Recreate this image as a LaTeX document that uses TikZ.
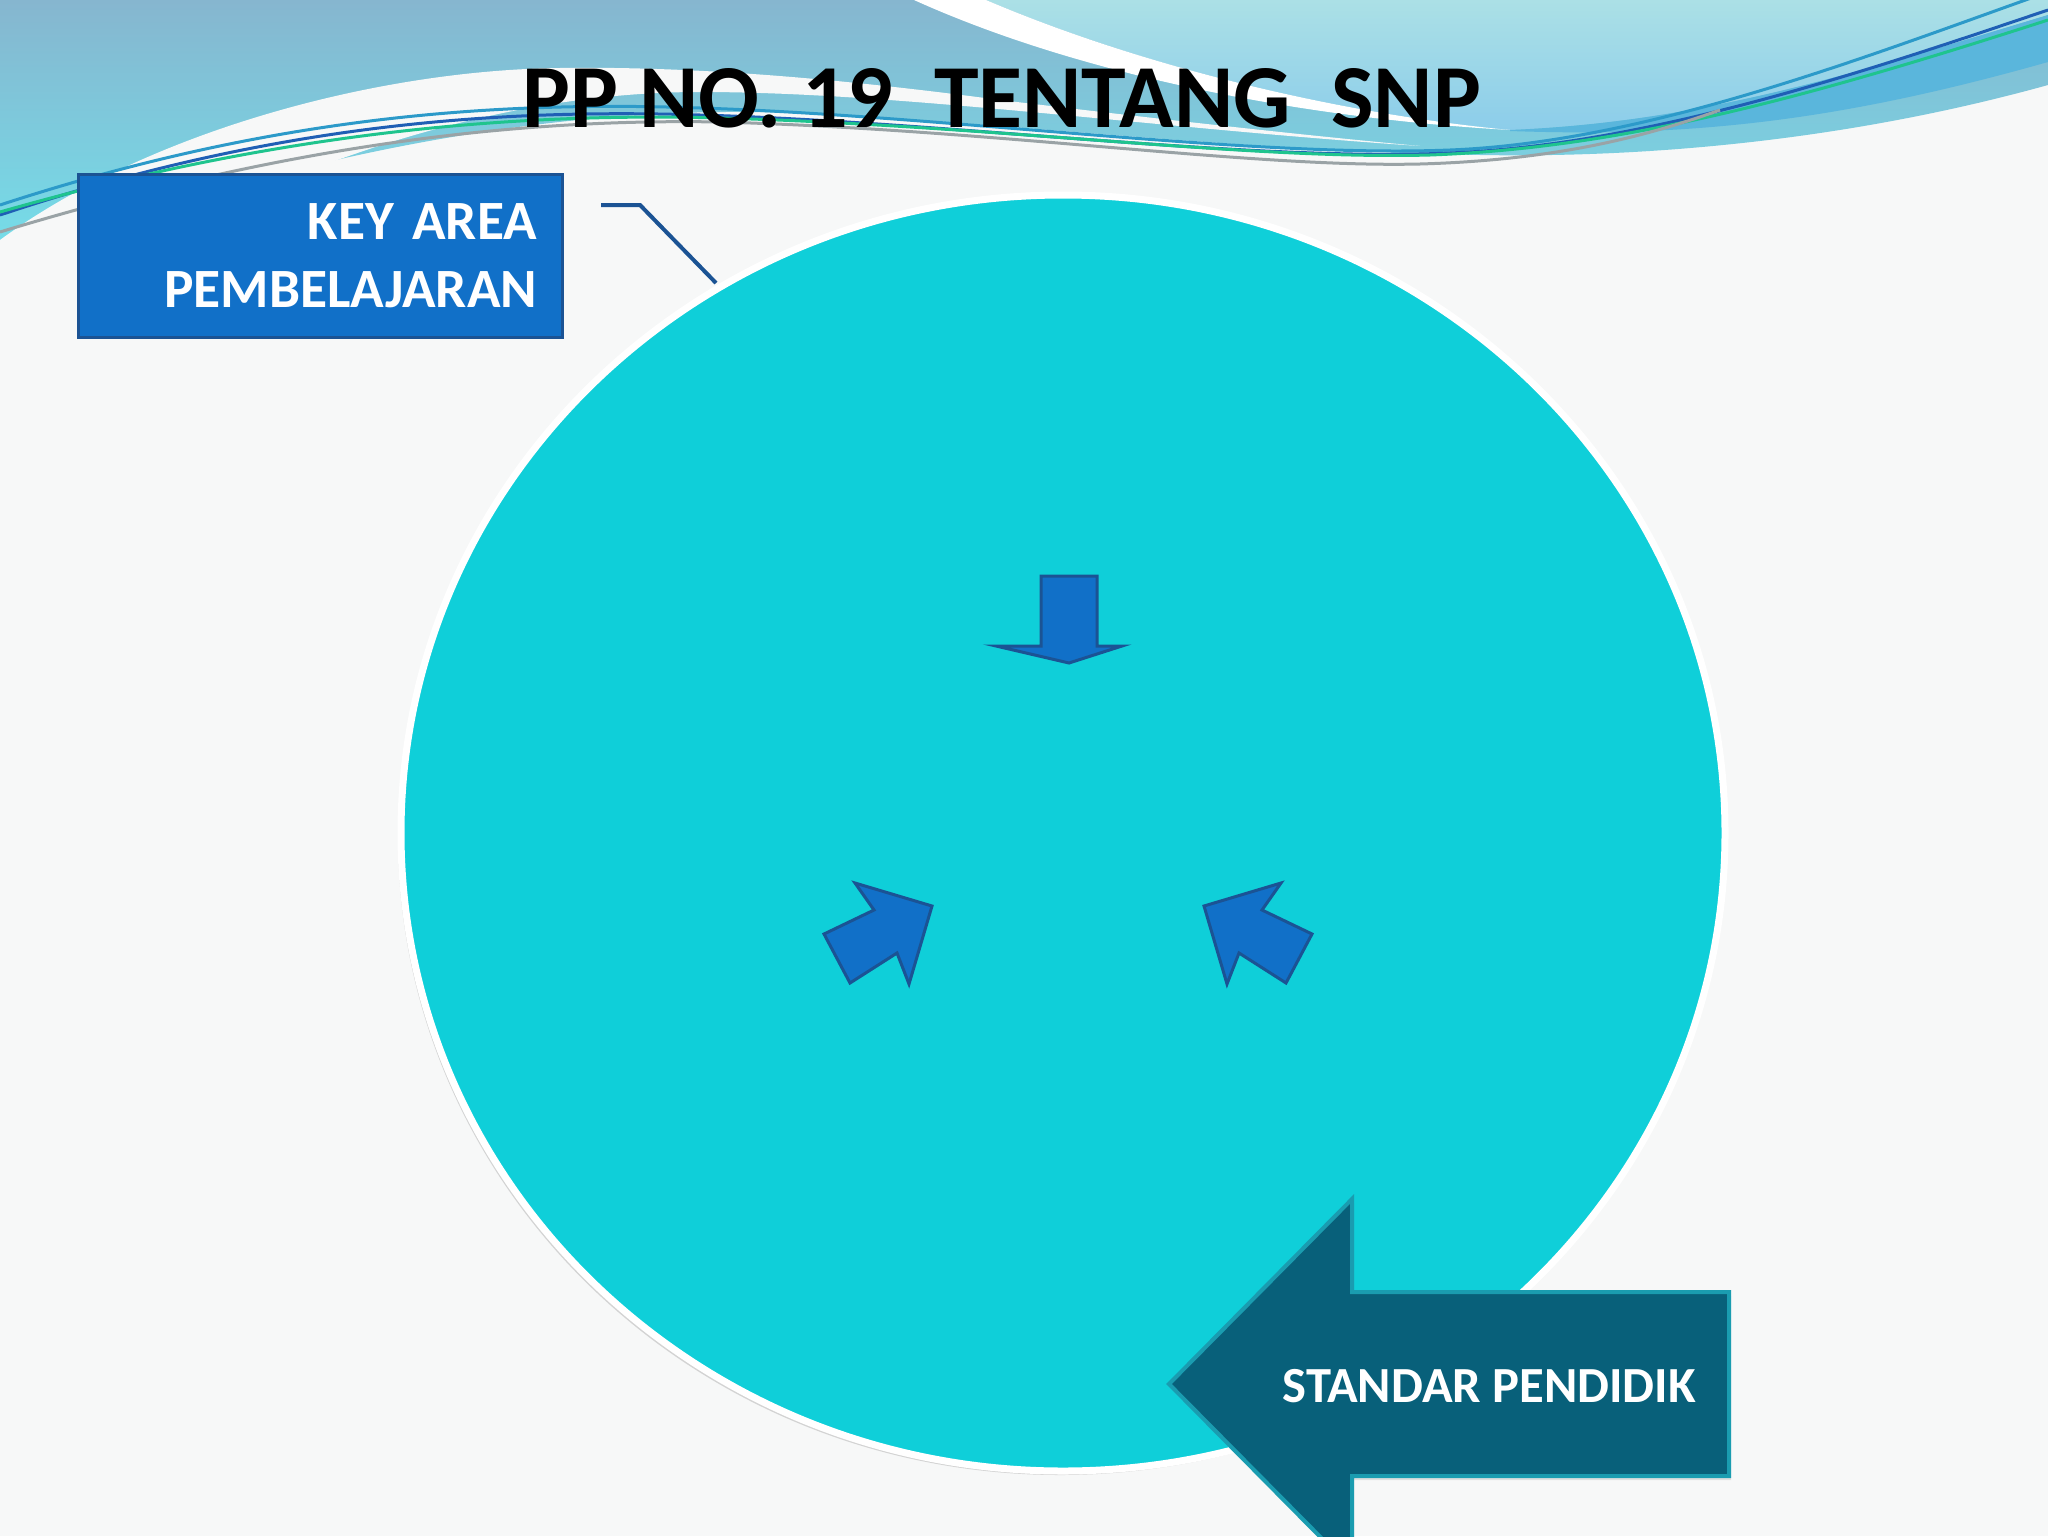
\documentclass[tikz,border=0pt]{standalone}
\usepackage{fontspec}
\setmainfont{Carlito}
\usetikzlibrary{positioning,shapes.geometric,shadows}

\definecolor{pagebg}{HTML}{F7F8F8}
\definecolor{skytop}{HTML}{86B6CF}
\definecolor{skylow}{HTML}{74DFEA}
\definecolor{palesky}{HTML}{ABE0E6}
\definecolor{palelow}{HTML}{8CCDEA}
\definecolor{deepband}{HTML}{5AB6DC}
\definecolor{disccyan}{HTML}{0FCFD9}
\definecolor{keyblue}{HTML}{1170C8}
\definecolor{keyedge}{HTML}{1B5394}
\definecolor{tealarrow}{HTML}{08607A}
\definecolor{tealedge}{HTML}{1A9CB0}

\tikzset{
  disc/.style={ellipse, fill=disccyan, draw=white, line width=3.5pt,
    minimum width=662pt, minimum height=638pt, inner sep=0pt,
    drop shadow={opacity=.3, shadow xshift=-1.5pt, shadow yshift=-2pt}},
  keybox/.style={fill=keyblue, draw=keyedge, line width=1.5pt,
    minimum width=242pt, minimum height=81.5pt, text width=217pt,
    inner xsep=12.5pt, align=right, text=white,
    font=\fontsize{27.7}{34}\selectfont\bfseries},
  pointer/.style={fill=keyblue, draw=keyedge, line width=1.5pt, line join=miter},
  bigpointer/.style={fill=tealarrow, draw=tealedge, line width=2pt, line join=miter,
    drop shadow={opacity=.2, shadow xshift=1pt, shadow yshift=-2pt}},
  leadline/.style={draw=keyedge, line width=2pt},
  thread/.style={line width=1.5pt},
}

\begin{document}
\begin{tikzpicture}[x=0.5pt, y=-0.5pt]
  \useasboundingbox (0,0) rectangle (2048,1536);
  \clip (0,0) rectangle (2048,1536);
  \fill[pagebg] (0,0) rectangle (2048,1536);

  % waves at the top
  \shade[top color=skytop, bottom color=skylow] (0,0) -- (2048,0) -- (2048,85)
    .. controls (1850,140) and (1650,158) .. (1480,155)
    .. controls (1200,150) and (950,115) .. (750,112)
    .. controls (500,110) and (250,170) .. (0,260) -- cycle;
  \shade[top color=palesky, bottom color=palelow] (986,0) -- (2048,0) -- (2048,15)
    .. controls (1850,75) and (1700,122) .. (1510,130)
    .. controls (1350,115) and (1150,70) .. (986,0) -- cycle;
  \fill[deepband] (1510,130) .. controls (1700,122) and (1850,75) .. (2048,15)
    -- (2048,62) .. controls (1850,118) and (1700,138) .. (1510,131) -- cycle;
  \fill[white] (914,0) -- (986,0) .. controls (1150,70) and (1350,115) .. (1510,130)
    .. controls (1300,118) and (1080,75) .. (914,0) -- cycle;
  \fill[pagebg] (0,240) .. controls (150,130) and (380,70) .. (560,68)
    .. controls (700,66) and (850,80) .. (1000,100)
    .. controls (1150,118) and (1300,135) .. (1420,146)
    .. controls (1150,128) and (900,92) .. (700,92)
    .. controls (450,92) and (200,200) .. (0,330) -- cycle;

  \draw[thread, color={rgb,255:red,44;green,154;blue,201}] (0,205)
    .. controls (260,120) and (480,100) .. (700,108)
    .. controls (950,116) and (1250,158) .. (1450,150)
    .. controls (1650,142) and (1870,55) .. (2048,-8);
  \draw[thread, color={rgb,255:red,31;green,95;blue,181}] (0,215)
    .. controls (260,128) and (480,108) .. (700,115)
    .. controls (950,122) and (1250,162) .. (1450,153)
    .. controls (1650,145) and (1870,70) .. (2048,10);
  \draw[thread, color={rgb,255:red,31;green,196;blue,142}] (0,212)
    .. controls (270,135) and (500,112) .. (720,118)
    .. controls (1000,126) and (1250,160) .. (1430,155)
    .. controls (1620,148) and (1800,100) .. (2048,20);
  \draw[thread, color={rgb,255:red,154;green,163;blue,166}] (0,232)
    .. controls (270,150) and (500,118) .. (720,122)
    .. controls (1000,130) and (1250,168) .. (1420,164)
    .. controls (1560,160) and (1650,135) .. (1720,110);

  \node[font=\fontsize{45}{54}\selectfont\bfseries, anchor=base] (title) at (1002,127)
    {PP NO.\ 19\ \ TENTANG\ \ SNP};

  % the circle
  \node[disc] (circ) at (1063,833) {};

  \node[keybox] (keyarea) at (320,255.5) {KEY AREA\\PEMBELAJARAN};
  \coordinate (leadstart) at (601,205);
  \coordinate (leadbend) at (640,205);
  \coordinate (leadend) at (716,283);
  \draw[leadline] (leadstart) -- (leadbend) -- (leadend);

  % three arrows inside
  \draw[pointer] (1041,576) -- (1097,576) -- (1097,646) -- (1122,646)
    -- (1069,663) -- (996,646) -- (1041,646) -- cycle;
  \draw[pointer] (1204,906) -- (1281,883) -- (1262,910) -- (1312,934)
    -- (1286,983) -- (1239,953) -- (1227,984) -- cycle;
  \draw[pointer] (932,906) -- (855,883) -- (874,910) -- (824,934)
    -- (850,983) -- (897,953) -- (909,984) -- cycle;

  % standar pendidik
  \draw[bigpointer] (1169,1384) -- (1352,1199) -- (1352,1292) -- (1729,1292)
    -- (1729,1476) -- (1352,1476) -- (1352,1569) -- cycle;
  \node[font=\fontsize{25.3}{30}\selectfont\bfseries, text=white, anchor=base east]
    (standar) at (1703,1402) {STANDAR PENDIDIK};
\end{tikzpicture}
\end{document}
